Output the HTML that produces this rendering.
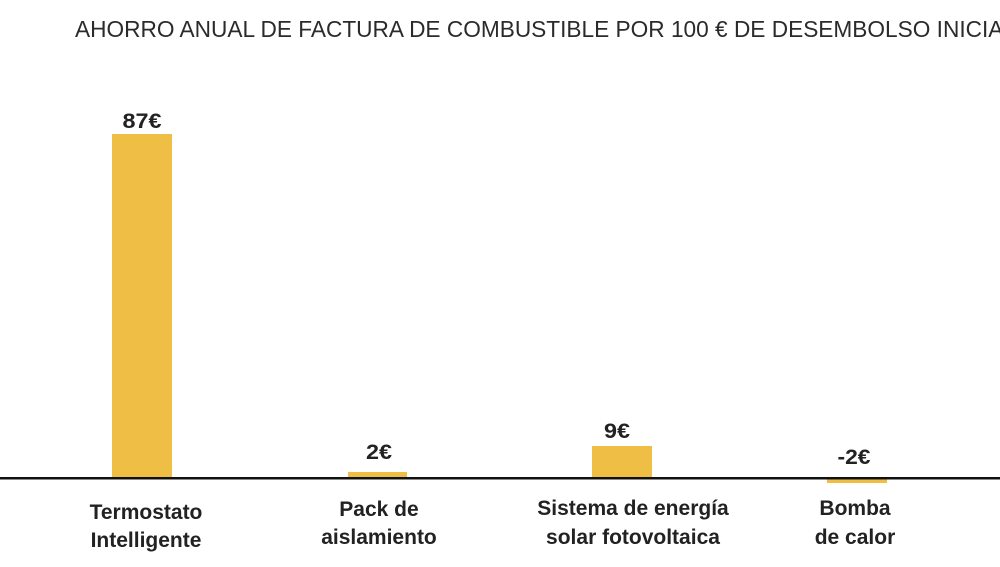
<!DOCTYPE html>
<html>
<head>
<meta charset="utf-8">
<style>
  html, body { margin: 0; padding: 0; background: #ffffff; }
  body { width: 1000px; height: 567px; overflow: hidden; }
  svg { display: block; }
  .t { font-family: "Liberation Sans", sans-serif; fill: #2b2b2b; }
  .v { font-family: "Liberation Sans", sans-serif; font-weight: bold; font-size: 21px; fill: #222; }
  .c { font-family: "Liberation Sans", sans-serif; font-weight: bold; font-size: 21px; fill: #222; }
</style>
</head>
<body>
<svg width="1000" height="567" viewBox="0 0 1000 567" xmlns="http://www.w3.org/2000/svg">
  <rect width="1000" height="567" fill="#ffffff"/>
  <text class="t" x="75" y="37" font-size="23" textLength="941" lengthAdjust="spacingAndGlyphs">AHORRO ANUAL DE FACTURA DE COMBUSTIBLE POR 100 € DE DESEMBOLSO INICIAL</text>

  <!-- bars -->
  <rect x="112" y="134" width="60" height="344" fill="#EFBF45"/>
  <rect x="348" y="472" width="59" height="6" fill="#EFBF45"/>
  <rect x="592" y="446" width="60" height="32" fill="#EFBF45"/>
  <rect x="827" y="478" width="60" height="5" fill="#EFBF45"/>

  <!-- axis -->
  <rect x="0" y="477" width="1000" height="2.5" fill="#111"/>

  <!-- values -->
  <text class="v" x="142" y="128" text-anchor="middle" textLength="39" lengthAdjust="spacingAndGlyphs">87€</text>
  <text class="v" x="379" y="459" text-anchor="middle" textLength="26" lengthAdjust="spacingAndGlyphs">2€</text>
  <text class="v" x="617" y="438" text-anchor="middle" textLength="26" lengthAdjust="spacingAndGlyphs">9€</text>
  <text class="v" x="854" y="464" text-anchor="middle" textLength="33" lengthAdjust="spacingAndGlyphs">-2€</text>

  <!-- categories -->
  <text class="c" x="146" y="519" text-anchor="middle">Termostato</text>
  <text class="c" x="146" y="547" text-anchor="middle">Intelligente</text>

  <text class="c" x="379" y="516" text-anchor="middle">Pack de</text>
  <text class="c" x="379" y="544" text-anchor="middle">aislamiento</text>

  <text class="c" x="633" y="515" text-anchor="middle">Sistema de energía</text>
  <text class="c" x="633" y="544" text-anchor="middle">solar fotovoltaica</text>

  <text class="c" x="855" y="515" text-anchor="middle">Bomba</text>
  <text class="c" x="855" y="544" text-anchor="middle">de calor</text>
</svg>
</body>
</html>
